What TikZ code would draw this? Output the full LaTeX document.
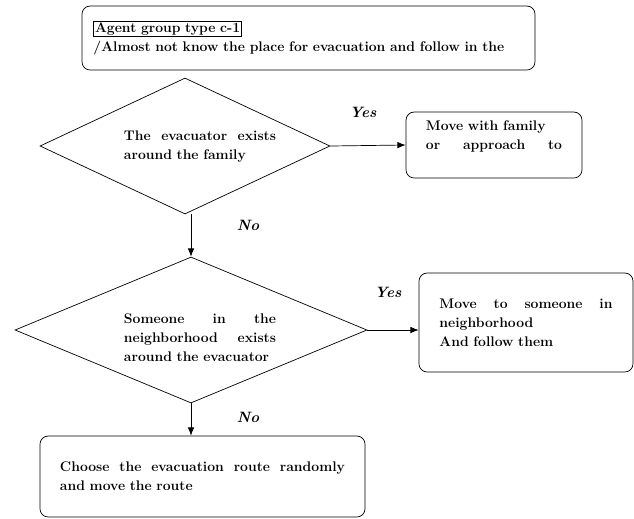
\documentclass[tikz,border=0pt]{standalone}
\usepackage{tikz}
\usetikzlibrary{shapes.geometric,arrows.meta}
\setlength{\fboxsep}{1pt}

\begin{document}
\begin{tikzpicture}[x=0.03cm, y=-0.03cm, line width=0.6pt,
    font=\fontsize{11.9}{16.2}\selectfont\bfseries,
    >={Latex[length=7pt,width=5.5pt]},
    box/.style={draw, rounded corners=7pt, align=left},
    decision/.style={draw, shape=diamond, inner sep=0},
    answer/.style={font=\fontsize{12.8}{14}\selectfont\bfseries\itshape}]

    \useasboundingbox (0,0) rectangle (634,518);

    % Agent group
    \node[box, minimum width=13.59cm, minimum height=1.92cm, text width=12.9cm]
    (top) at (308.5,38) {\fbox{Agent group type c-1}\\/Almost not know the place for evacuation and follow in the};

    % Decisions
    \node[decision, minimum width=8.7cm, minimum height=4.08cm] (d1) at (185,146) {};
    \node[text width=4.56cm, align=left, inner sep=0] (d1txt) at (200,147)
    {The\hfill evacuator\hfill exists\\\mbox{around the family}};
    \node[decision, minimum width=10.56cm, minimum height=4.38cm] (d2) at (191,330) {};
    \node[text width=4.56cm, align=left, inner sep=0] (d2txt) at (200,338)
    {Someone\hfill in\hfill the\\neighborhood\hfill exists\\\mbox{around the evacuator}};

    % Actions
    \node[box, minimum width=5.28cm, minimum height=1.98cm, text width=4.08cm]
    (b1) at (494,145) {Move with family\\or\hfill approach\hfill to\\\mbox{}};
    \node[box, minimum width=6.42cm, minimum height=2.97cm, text width=5.19cm]
    (b2) at (526,322.5) {Move\hfill to\hfill someone\hfill in\\neighborhood\\And follow them};
    \node[box, minimum width=9.75cm, minimum height=2.43cm, text width=8.55cm]
    (b3) at (202.5,476.5) {Choose\hfill the\hfill evacuation\hfill route\hfill randomly\\and move the route};

    % Answers
    \node[answer] (yes1) at (363,112) {Yes};
    \node[answer] (no1) at (248,225) {No};
    \node[answer] (yes2) at (388,292) {Yes};
    \node[answer] (no2) at (248,417) {No};

    % Arrows
    \draw[->] (d1.south -| d2.north) -- (d2.north);
    \draw[->] (d1.east) -- (b1.west);
    \draw[->] (d2.east) -- (d2.east -| b2.west);
    \draw[->] (d2.south) -- (d2.south |- b3.north);

\end{tikzpicture}
\end{document}
